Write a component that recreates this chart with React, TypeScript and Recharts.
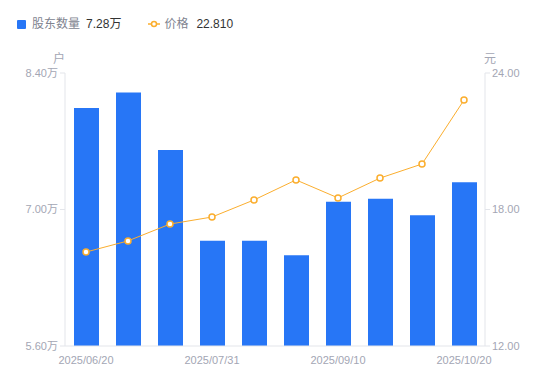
import React from "react"
import { Bar, ComposedChart, Line, XAxis, YAxis } from "recharts"

const dates = [
  "2025/06/20",
  "2025/06/30",
  "2025/07/10",
  "2025/07/31",
  "2025/08/10",
  "2025/08/20",
  "2025/09/10",
  "2025/09/20",
  "2025/09/30",
  "2025/10/20",
]
const holders = [8.04, 8.2, 7.61, 6.68, 6.68, 6.53, 7.08, 7.11, 6.94, 7.28]
const prices = [16.13, 16.62, 17.36, 17.67, 18.42, 19.3, 18.51, 19.38, 20.0, 22.81]
const holderTicks = [5.6, 7.0, 8.4]
const priceTicks = [12, 18, 24]

const BLUE = "#2776F6"
const ORANGE = "#FBAE2E"
const MUTED = "#a3a6b4"
const AXIS = "#e3e5ea"
const FONT = '"Liberation Sans", Arial, "Noto Sans CJK SC", sans-serif'

const data = dates.map((d, i) => ({ date: d, holders: holders[i], price: prices[i] }))

export default function App() {
  const tick = { fontSize: 11, fill: MUTED, fontFamily: FONT }
  return (
    <div style={{ position: "absolute", left: 0, top: 0, width: 550, height: 381, fontFamily: FONT }}>
      <div style={{ position: "absolute", left: 17, top: 16, display: "flex", alignItems: "center", fontSize: 12, lineHeight: "16px" }}>
        <span style={{ width: 9, height: 9, background: BLUE, borderRadius: 1, marginRight: 6 }} />
        <span style={{ color: "#80838f" }}>股东数量</span>
        <span style={{ color: "#333", marginLeft: 6 }}>{holders[holders.length - 1].toFixed(2)}万</span>
        <svg width={12} height={8} style={{ marginLeft: 27, marginRight: 4 }}>
          <line x1={0} y1={4} x2={12} y2={4} stroke={ORANGE} strokeWidth={1.5} />
          <circle cx={6} cy={4} r={2.5} fill="#fff" stroke={ORANGE} strokeWidth={1.5} />
        </svg>
        <span style={{ color: "#80838f" }}>价格</span>
        <span style={{ color: "#333", marginLeft: 8 }}>{prices[prices.length - 1].toFixed(3)}</span>
      </div>
      <span style={{ position: "absolute", left: 53, top: 49, fontSize: 12, color: MUTED }}>户</span>
      <span style={{ position: "absolute", left: 484, top: 49, fontSize: 12, color: MUTED }}>元</span>
      <ComposedChart
        width={550}
        height={381}
        data={data}
        margin={{ top: 73, right: 0, bottom: 0, left: 0 }}
        barCategoryGap={17}
      >
        <XAxis
          dataKey="date"
          interval={2}
          tick={tick}
          tickLine={false}
          axisLine={{ stroke: AXIS }}
          tickMargin={4}
          height={35}
        />
        <YAxis
          yAxisId="left"
          domain={[5.6, 8.4]}
          ticks={holderTicks}
          width={65}
          tick={tick}
          tickSize={5}
          tickMargin={2}
          tickLine={{ stroke: AXIS }}
          axisLine={{ stroke: AXIS }}
          tickFormatter={(v: number) => `${v.toFixed(2)}万`}
          allowDataOverflow
        />
        <YAxis
          yAxisId="right"
          orientation="right"
          domain={[12, 24]}
          ticks={priceTicks}
          width={65}
          tick={tick}
          tickSize={5}
          tickMargin={2}
          tickLine={{ stroke: AXIS }}
          axisLine={{ stroke: AXIS }}
          tickFormatter={(v: number) => v.toFixed(2)}
        />
        <Bar yAxisId="left" dataKey="holders" fill={BLUE} barSize={25} isAnimationActive={false} />
        <Line
          yAxisId="right"
          dataKey="price"
          stroke={ORANGE}
          strokeWidth={1}
          dot={{ r: 3, fill: "#fff", stroke: ORANGE, strokeWidth: 1.5 }}
          activeDot={false}
          isAnimationActive={false}
        />
      </ComposedChart>
    </div>
  )
}
